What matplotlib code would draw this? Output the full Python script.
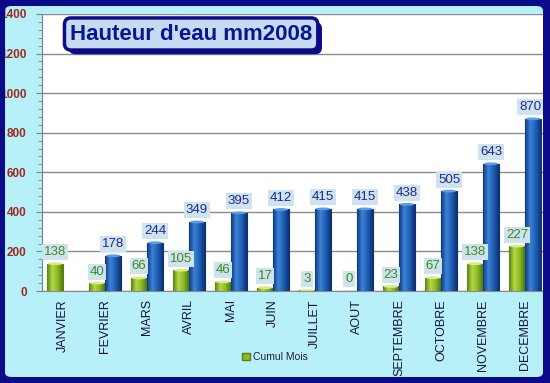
"""
Hauteur d'eau 2008 : cumul mensuel (vert) et cumul annuel (bleu).
"""
import matplotlib
matplotlib.use("Agg")
import matplotlib.pyplot as plt
import matplotlib.patheffects as pe
from matplotlib.colors import LinearSegmentedColormap
from matplotlib.patches import FancyBboxPatch, Rectangle, Patch, Ellipse
from matplotlib.ticker import MultipleLocator
import numpy as np

months = ["JANVIER", "FEVRIER", "MARS", "AVRIL", "MAI", "JUIN", "JUILLET",
          "AOUT", "SEPTEMBRE", "OCTOBRE", "NOVEMBRE", "DECEMBRE"]
mois = [138, 40, 66, 105, 46, 17, 3, 0, 23, 67, 138, 227]
cumul = [np.nan, 178, 244, 349, 395, 412, 415, 415, 438, 505, 643, 870]

NAVY = "#0b0b8a"
CYAN = "#b8f0f9"
GREEN = "#8cba22"
BLUE = "#1f5fb4"
LABEL_BG = "#cfe3ee"

green_cmap = LinearSegmentedColormap.from_list("g", ["#5a8410", "#b4d84a", "#8cba22", "#4f7a0c"])
blue_cmap = LinearSegmentedColormap.from_list("b", ["#0c3a86", "#3c82d4", "#1f5fb4", "#0b3278"])

plt.rcParams["font.family"] = ["Liberation Sans", "DejaVu Sans"]

fig = plt.figure(figsize=(5.5, 3.83), dpi=100)
fig.patch.set_facecolor(NAVY)

# cyan panel behind the chart
panel = FancyBboxPatch((5 / 550, 6 / 383), 538 / 550, 371 / 383,
                       boxstyle="round,pad=0,rounding_size=0.012",
                       transform=fig.transFigure, fc=CYAN, ec="none", zorder=-1)
fig.add_artist(panel)

ax = fig.add_axes([42 / 550, 1 - 291 / 383, 501 / 550, 277 / 383])
ax.set_facecolor("white")

x = np.arange(len(months))
w = 0.38
grad = np.linspace(0, 1, 64).reshape(1, -1)


def shade(bars, cmap, cap):
    # cylinder look: horizontal gradient + light cap
    for b in bars:
        h = b.get_height()
        if not np.isfinite(h) or h <= 0:
            continue
        x0, w0 = b.get_x(), b.get_width()
        im = ax.imshow(grad, cmap=cmap, extent=(x0, x0 + w0, 0, h),
                       aspect="auto", zorder=3.1, origin="lower")
        im.set_clip_path(b)
        ax.add_patch(Ellipse((x0 + w0 / 2, h), w0 * 0.9, 14, fc=cap, ec="none", zorder=3.2))


g_bars = ax.bar(x - w / 2, mois, w, color=GREEN, edgecolor="#5d7f12", linewidth=0.8, zorder=3)
b_bars = ax.bar(x + w / 2, cumul, w, color=BLUE, edgecolor="#10306e", linewidth=0.8, zorder=3)
shade(g_bars, green_cmap, "#d6ee80")
shade(b_bars, blue_cmap, "#5c9ce2")

box = dict(boxstyle="square,pad=0.15", fc=LABEL_BG, ec="none")
for xi, v in zip(x, mois):
    ax.annotate(f"{v}", (xi - w / 2, v), xytext=(0, 4), textcoords="offset points",
                ha="center", va="bottom", fontsize=9.5, color="#3c8a1e",
                bbox=box, zorder=4)
for xi, v in zip(x, cumul):
    if np.isnan(v):
        continue
    dx = -2 if xi == x[-1] else 0
    ax.annotate(f"{v:.0f}", (xi + w / 2, v), xytext=(dx, 4), textcoords="offset points",
                ha="center", va="bottom", fontsize=9.5, color="#1c2a8c",
                bbox=box, zorder=4)

ax.set_xlim(-0.5, 11.5 - 3 / 42)
ax.set_ylim(0, 1400)
ax.yaxis.set_major_locator(MultipleLocator(200))
ax.yaxis.set_minor_locator(MultipleLocator(40))
ax.grid(axis="y", color="#8a8a8a", linewidth=1, zorder=0)
ax.set_axisbelow(True)

ax.set_xticks(x)
ax.set_xticklabels(months, rotation=90, fontsize=9, color="#14143a")
ax.tick_params(axis="x", length=0, pad=6)
ax.tick_params(axis="y", which="major", length=4, pad=7, labelsize=8.5,
               labelcolor="#9b2d1f", color="#6a8a8a")
ax.tick_params(axis="y", which="minor", length=3, color="#6a8a8a")
for lbl in ax.get_yticklabels():
    lbl.set_fontweight("bold")

for side in ("top", "right"):
    ax.spines[side].set_visible(False)
ax.spines["left"].set_color("#6a8a8a")
ax.spines["bottom"].set_color("#8a8a8a")

# title box with shadow
t = fig.text(70 / 550, 1 - 34 / 383, "Hauteur d'eau mm2008", fontsize=16,
             fontweight="bold", color="#0a1590", zorder=7, va="center", ha="left",
             bbox=dict(boxstyle="round,pad=0.25,rounding_size=0.3",
                       fc="#c6daf2", ec=NAVY, lw=2.5))
t.get_bbox_patch().set_path_effects([
    pe.withSimplePatchShadow(offset=(3, -3), shadow_rgbFace=NAVY, alpha=1)])

fig.legend(handles=[Patch(fc=GREEN, ec="#5d7f12", label="Cumul Mois")],
           loc="center", bbox_to_anchor=(275 / 550, 1 - 357 / 383), frameon=False,
           fontsize=7.5, handlelength=0.7, handleheight=0.7, handletextpad=0.3,
           labelcolor="#222233")

# navy border strips on top
for r in [(0, 0, 5 / 550, 1), (543 / 550, 0, 7 / 550, 1),
          (0, 0, 1, 6 / 383), (0, 1 - 5 / 383, 1, 5 / 383)]:
    fig.add_artist(Rectangle(r[:2], r[2], r[3], transform=fig.transFigure,
                             fc=NAVY, ec="none", zorder=5))

fig.savefig("out.png", dpi=100, facecolor=fig.get_facecolor())
